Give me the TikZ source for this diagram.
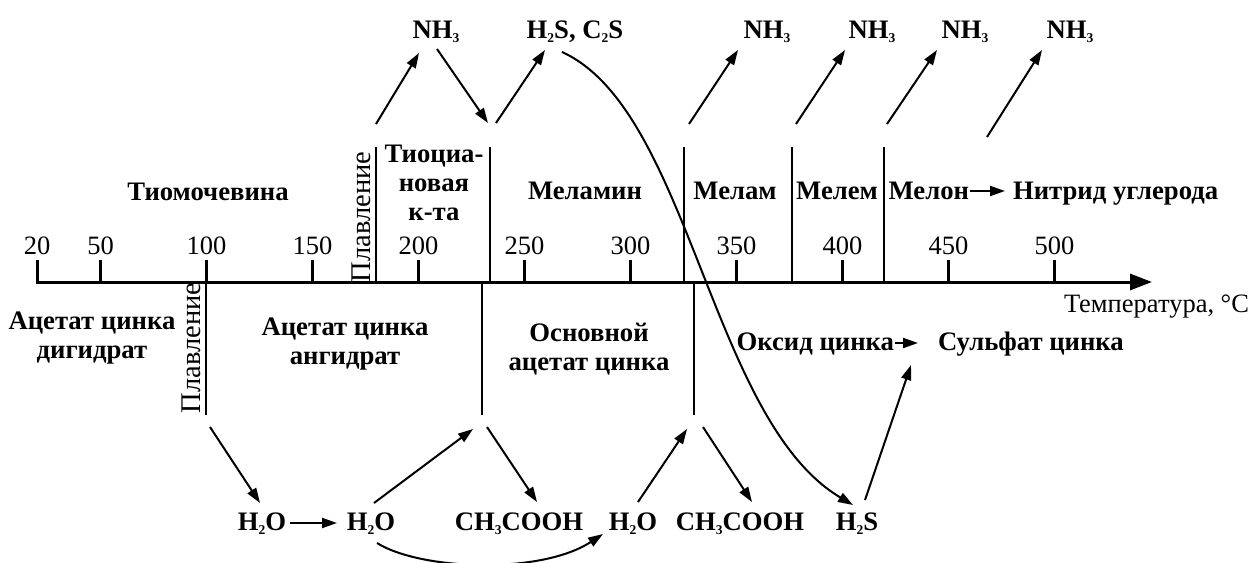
\documentclass[tikz,border=0pt]{standalone}
\usepackage{fontspec}
\setmainfont{Liberation Serif}
\usetikzlibrary{arrows.meta}
% small lowered index used in the formulas
\newcommand{\lowidx}[1]{\raisebox{-0.35ex}{\fontsize{13.5}{13.5}\selectfont #1}}
\begin{document}
\begin{tikzpicture}[x=1pt,y=-1pt,
  every node/.style={inner sep=0pt, outer sep=0pt},
  bl/.style={font=\fontsize{26.7}{29}\selectfont\bfseries, align=center},
  rg/.style={font=\fontsize{26.5}{29}\selectfont},
  flow/.style={line width=2pt, -{Triangle[length=15pt,width=10pt]}},
  divider/.style={line width=1.4pt},
  melt/.style={font=\fontsize{28.5}{29}\selectfont, rotate=90, anchor=base},
]
\useasboundingbox (0,0) rectangle (1252,562);

% ---------- temperature axis ----------
\coordinate (tick20) at (37,260);
\coordinate (axstart) at (37,282);
\coordinate (axend) at (1152,282);
\draw[line width=3pt, -{Triangle[length=22pt,width=16pt]}] (tick20) -- (axstart) -- (axend);
\node[rg, anchor=base] (t20) at (37,254) {20};
\foreach \v in {50,100,...,500} {
  \draw[line width=2.5pt] ({37+(\v-20)*2.12},282) -- ({37+(\v-20)*2.12},260);
  \node[rg, anchor=base] (t\v) at ({37+(\v-20)*2.12},254) {\v};
}
\node[rg, anchor=base east] (temp) at (1249,312) {Температура, °С};

% ---------- phase boundaries ----------
\foreach \x in {376,490,684,792,884} \draw[divider] (\x,147) -- (\x,282);
\foreach \x in {206,482,694} \draw[divider] (\x,282) -- (\x,415);
\node[melt] (meltA) at (370,217) {Плавление};
\node[melt] (meltB) at (200,348) {Плавление};

% ---------- thiourea branch ----------
\node[bl, anchor=base] (tiom) at (208,200) {Тиомочевина};
\node[bl, anchor=base] (tioc) at (434,220) {Тиоциа-\\новая\\к-та};
\node[bl, anchor=base] (melamin) at (585,199) {Меламин};
\node[bl, anchor=base] (melam) at (735,199) {Мелам};
\node[bl, anchor=base] (melem) at (837,199) {Мелем};
\node[bl, anchor=base east] (melon) at (969,199) {Мелон};
\node[bl, anchor=base west] (nitrid) at (1013,199) {Нитрид углерода};
\coordinate (moS) at (970,191);
\coordinate (moE) at (1005,191);
\draw[flow] (moS) -- (moE);

\node[bl, anchor=base] (nh1) at (436,38) {NH\lowidx{3}};
\node[bl, anchor=base] (hs)  at (575,38) {H\lowidx{2}S, C\lowidx{2}S};
\node[bl, anchor=base] (nh2) at (767,38) {NH\lowidx{3}};
\node[bl, anchor=base] (nh3) at (872,38) {NH\lowidx{3}};
\node[bl, anchor=base] (nh4) at (965,38) {NH\lowidx{3}};
\node[bl, anchor=base] (nh5) at (1070,38) {NH\lowidx{3}};

\coordinate (u1s) at (376,124);  \coordinate (u1e) at (419,53);
\coordinate (u2s) at (437,49);   \coordinate (u2e) at (488,123);
\coordinate (u3s) at (496,123);  \coordinate (u3e) at (545,50);
\coordinate (u4s) at (689,124);  \coordinate (u4e) at (738,50);
\coordinate (u5s) at (796,124);  \coordinate (u5e) at (845,50);
\coordinate (u6s) at (887,124);  \coordinate (u6e) at (937,50);
\coordinate (u7s) at (987,137);  \coordinate (u7e) at (1042,50);
\foreach \i in {1,...,7} \draw[flow] (u\i s) -- (u\i e);

% ---------- zinc acetate branch ----------
\node[bl, anchor=base] (acA) at (92,358) {Ацетат цинка\\дигидрат};
\node[bl, anchor=base] (acB) at (345,364) {Ацетат цинка\\ангидрат};
\node[bl, anchor=base] (osn) at (589,370) {Основной\\ацетат цинка};
\node[bl, anchor=base east] (oks) at (894,350) {Оксид цинка};
\node[bl, anchor=base west] (sulf) at (938,350) {Сульфат цинка};
\coordinate (osS) at (895,343);
\coordinate (osE) at (918,343);
\draw[flow] (osS) -- (osE);

\node[bl, anchor=base] (w1) at (262,530) {H\lowidx{2}O};
\node[bl, anchor=base] (w2) at (371,530) {H\lowidx{2}O};
\node[bl, anchor=base] (aa1) at (519,530) {CH\lowidx{3}COOH};
\node[bl, anchor=base] (w3) at (633,530) {H\lowidx{2}O};
\node[bl, anchor=base] (aa2) at (740,530) {CH\lowidx{3}COOH};
\node[bl, anchor=base] (hs2) at (857,530) {H\lowidx{2}S};

\coordinate (d1s) at (210,427);  \coordinate (d1e) at (260,503);
\coordinate (d2s) at (290,523);  \coordinate (d2e) at (337,523);
\coordinate (d3s) at (374,503);  \coordinate (d3e) at (473,429);
\coordinate (d4s) at (487,427);  \coordinate (d4e) at (537,502);
\coordinate (d6s) at (638,502);  \coordinate (d6e) at (687,429);
\coordinate (d7s) at (703,427);  \coordinate (d7e) at (752,502);
\coordinate (d8s) at (865,500);  \coordinate (d8e) at (911,365);
\foreach \i in {1,2,3,4,6,7,8} \draw[flow] (d\i s) -- (d\i e);

% water carried over to the basic acetate step
\coordinate (wcS) at (377,543);
\coordinate (wcE) at (603,534);
\draw[flow] (wcS) .. controls (420,570) and (540,575) .. (wcE);

% H2S released from thiourea reaching the oxide
\coordinate (hsS) at (562,52);
\coordinate (hsE) at (853,505);
\draw[flow] (hsS) .. controls (690,110) and (710,420) .. (hsE);
\end{tikzpicture}
\end{document}
